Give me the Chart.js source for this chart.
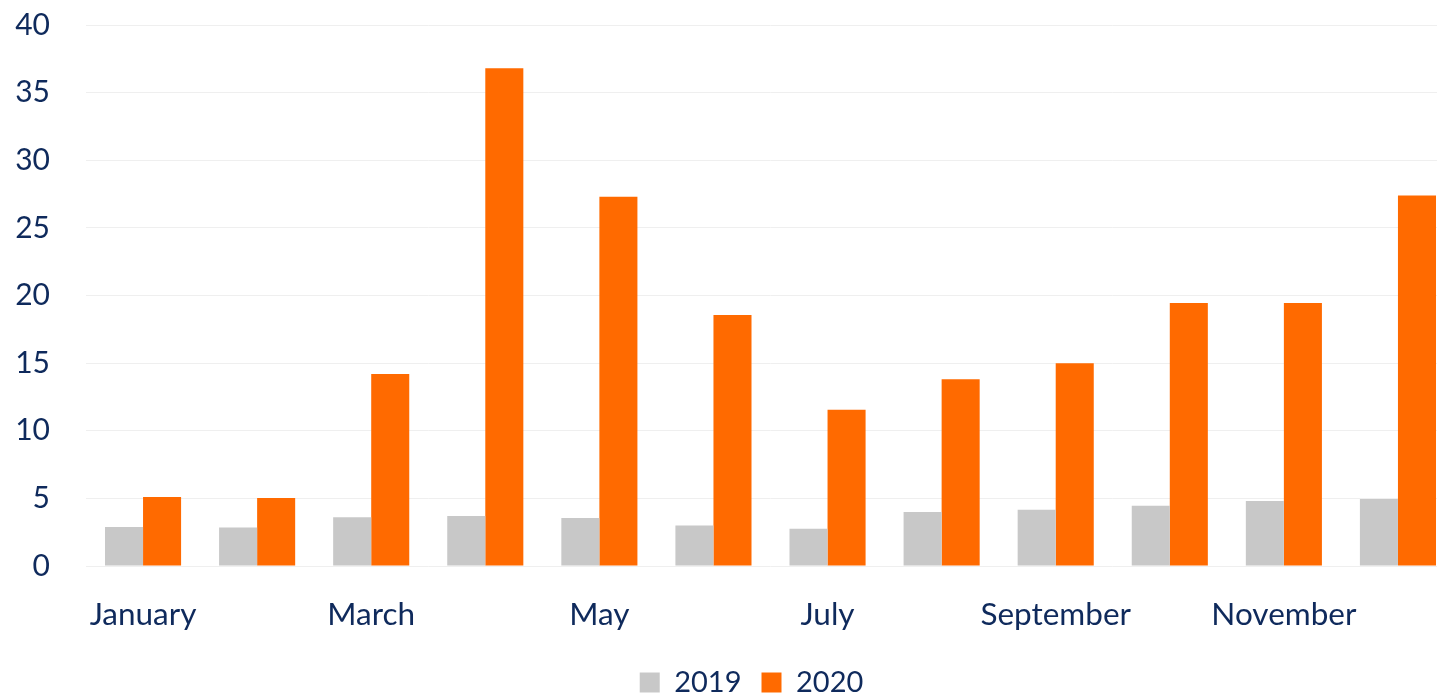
<!DOCTYPE html>
<html>
<head>
<meta charset="utf-8">
<script src="https://cdn.jsdelivr.net/npm/chart.js@4/dist/chart.umd.min.js"></script>
<style>
html,body{margin:0;padding:0;background:#fff;overflow:hidden;}
#wrap{position:absolute;left:0;top:-29px;width:1455px;height:738px;}
</style>
</head>
<body>
<div id="wrap"><canvas id="c"></canvas></div>
<script>
const categories = ["January","February","March","April","May","June","July","August","September","October","November","December"];
const series2019 = [2.88,2.85,3.6,3.7,3.55,3.0,2.75,4.0,4.15,4.45,4.8,4.95];
const series2020 = [5.1,5.03,14.2,36.8,27.3,18.55,11.55,13.8,15.0,19.45,19.45,27.4];
const yTicks = [0,5,10,15,20,25,30,35,40];

const navy = '#0f2a5c';
const fontFamily = 'Lato, "Open Sans", sans-serif';

const legendShift = {
  id:'legendShift',
  afterLayout(chart){
    const l = chart.legend;
    l.left += 24; l.right += 24;
    l.top -= 2; l.bottom -= 2;
  }
};

new Chart(document.getElementById('c'), {
  type: 'bar',
  data: {
    labels: categories,
    datasets: [
      {label:'2019', data: series2019, backgroundColor:'#c8c8c8', borderWidth:0},
      {label:'2020', data: series2020, backgroundColor:'#ff6a00', borderWidth:0}
    ]
  },
  plugins:[legendShift],
  options: {
    responsive:true,
    maintainAspectRatio:false,
    animation:false,
    layout:{padding:{top:0,right:0,bottom:0,left:0}},
    datasets:{bar:{categoryPercentage:0.667,barPercentage:1}},
    plugins:{
      legend:{
        position:'bottom',
        labels:{boxWidth:20,boxHeight:20,padding:20,color:navy,font:{family:fontFamily,size:29}}
      },
      tooltip:{enabled:false}
    },
    scales:{
      x:{
        grid:{display:false},
        border:{display:false},
        ticks:{
          autoSkip:false,maxRotation:0,color:navy,padding:22,
          font:{family:fontFamily,size:31.5},
          callback:function(v,i){return i%2===0?categories[i]:'';}
        },
        afterFit:function(s){s.height=84;}
      },
      y:{
        min:0,max:40,
        afterBuildTicks:function(s){s.ticks=yTicks.map(v=>({value:v}));},
        grid:{color:'#efefef',lineWidth:1,drawTicks:false},
        border:{display:false},
        ticks:{color:navy,padding:36,font:{family:fontFamily,size:30}},
        afterFit:function(s){s.width=86;}
      }
    }
  }
});
</script>
</body>
</html>
